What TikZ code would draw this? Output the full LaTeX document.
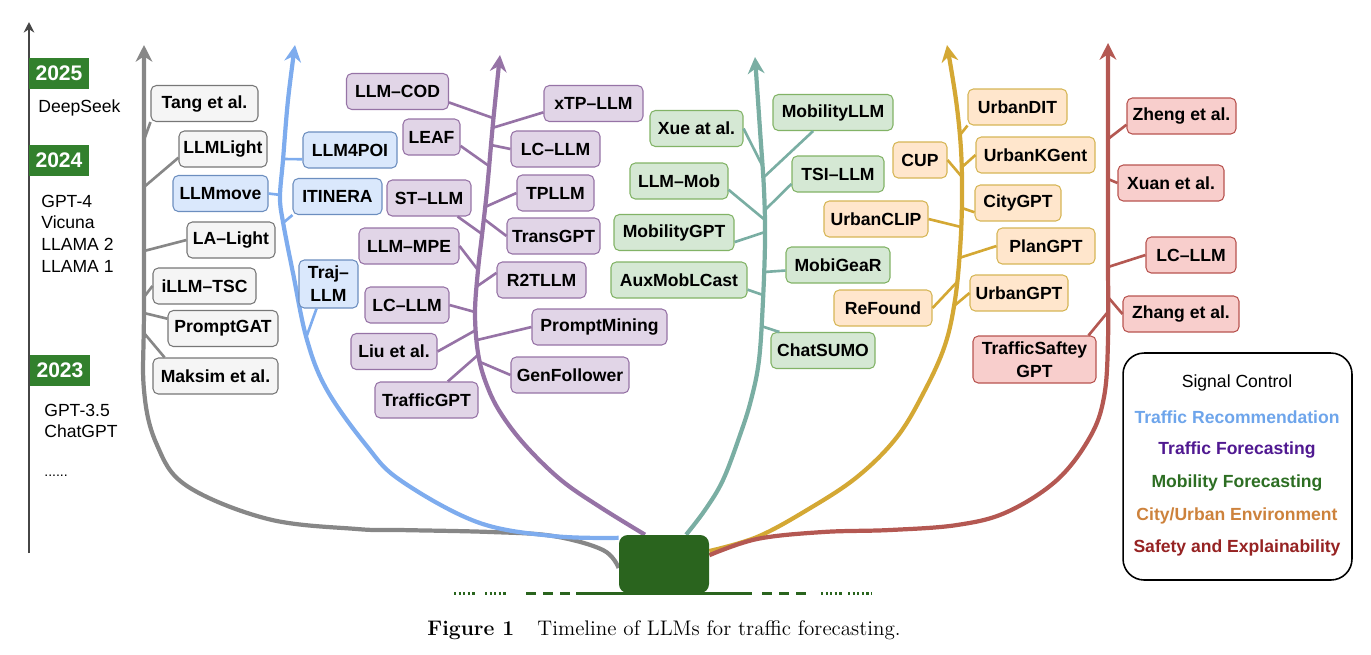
\documentclass[tikz,border=0pt]{standalone}
\usepackage{fontspec}
\setsansfont{Liberation Sans}
\usepackage{xcolor}
\usepackage{tikz}
\usetikzlibrary{
    arrows.meta,
    backgrounds
}

\definecolor{cgray}{RGB}{135,135,135}
\definecolor{cblue}{RGB}{126,172,238}
\definecolor{cpurple}{RGB}{150,115,166}
\definecolor{cteal}{RGB}{122,174,163}
\definecolor{cgold}{RGB}{212,168,52}
\definecolor{cred}{RGB}{180,88,82}
\definecolor{axisgray}{RGB}{70,70,70}
\definecolor{yeargreen}{RGB}{50,128,45}
\definecolor{rootgreen}{RGB}{42,100,30}
\definecolor{gfill}{HTML}{F5F5F5}
\definecolor{gdraw}{HTML}{777777}
\definecolor{bfill}{HTML}{DAE8FC}
\definecolor{bdraw}{HTML}{6C8EBF}
\definecolor{pfill}{HTML}{E1D5E7}
\definecolor{pdraw}{HTML}{9673A6}
\definecolor{mfill}{HTML}{D5E8D4}
\definecolor{mdraw}{HTML}{82B366}
\definecolor{ofill}{HTML}{FFE6CC}
\definecolor{odraw}{HTML}{D6B656}
\definecolor{rfill}{HTML}{F8CECC}
\definecolor{rdraw}{HTML}{B85450}
\definecolor{lgblue}{RGB}{110,165,235}
\definecolor{lgpurple}{RGB}{80,25,145}
\definecolor{lggreen}{RGB}{45,110,35}
\definecolor{lgorange}{RGB}{205,130,60}
\definecolor{lgred}{RGB}{150,35,35}

\begin{document}
\begin{tikzpicture}[
    x=0.02cm, y=-0.02cm,
    font=\sffamily\bfseries\fontsize{10}{13}\selectfont,
    box/.style={
        rectangle,
        rounded corners=3pt,
        line width=0.6pt,
        align=center,
        text=black,
        minimum height=0.72cm,
        inner xsep=2pt,
        inner ysep=2pt
    },
    bw/.style={minimum width=#1*0.02cm},
    gbox/.style={box, draw=gdraw, fill=gfill},
    bbox/.style={box, draw=bdraw, fill=bfill},
    pbox/.style={box, draw=pdraw, fill=pfill},
    mbox/.style={box, draw=mdraw, fill=mfill},
    obox/.style={box, draw=odraw, fill=ofill},
    rbox/.style={box, draw=rdraw, fill=rfill},
    year/.style={
        fill=yeargreen,
        text=white,
        font=\sffamily\bfseries\fontsize{12}{14}\selectfont,
        minimum width=1.22cm,
        minimum height=0.62cm,
        inner sep=0pt
    },
    era/.style={
        font=\sffamily\mdseries\fontsize{10}{12.3}\selectfont,
        anchor=west,
        align=left,
        inner sep=0pt
    },
    legtext/.style={font=\sffamily\bfseries\fontsize{10}{12}\selectfont},
    branch/.style={line width=2.4pt, -{Stealth[length=9.5pt, width=9.5pt]}},
    link/.style={line width=1.5pt},
    axis/.style={axisgray, line width=1.1pt, -{Stealth[length=6pt, width=6pt]}},
    ground/.style={rootgreen, line width=1.7pt}
]

\useasboundingbox (0,0) rectangle (1371,654);

% ===== TIMELINE =====
\coordinate (axbot) at (29,553);
\coordinate (axtop) at (29,22);
\draw[axis] (axbot) -- (axtop);

\node[year] (y2025) at (59,73) {2025};
\node[year] (y2024) at (59,160) {2024};
\node[year] (y2023) at (60,370) {2023};
\node[era] (deepseek) at (38,108) {DeepSeek};
\node[era] (m2024) at (41,233.5) {GPT-4\\Vicuna\\LLAMA 2\\LLAMA 1};
\node[era] (m2023) at (44,421) {GPT-3.5\\ChatGPT};
\node[era, font=\sffamily\mdseries\fontsize{8}{10}\selectfont] (more) at (44,476) {......};

% ===== ROOT =====
\node[fill=rootgreen, rounded corners=5pt, minimum width=1.8cm, minimum height=1.16cm, inner sep=0pt] (root) at (664,564) {};

\draw[ground, dash pattern=on 1.3pt off 1.3pt] (454,593) -- (475,593);
\draw[ground, dash pattern=on 1.3pt off 1.3pt] (485,593) -- (507,593);
\draw[ground, dash pattern=on 5.7pt off 4pt] (526,593) -- (570,593);
\draw[ground] (576,593) -- (752,593);
\draw[ground, dash pattern=on 5.7pt off 4pt] (762,593) -- (808,593);
\draw[ground, dash pattern=on 1.3pt off 1.3pt] (821,593) -- (842,593);
\draw[ground, dash pattern=on 1.3pt off 1.3pt] (848,593) -- (871,593);

% ===== BRANCHES =====
\coordinate (gtop) at (144,45);
\coordinate (btop) at (295,45);
\coordinate (ptop) at (500,55);
\coordinate (ttop) at (755,57);
\coordinate (otop) at (947,45);
\coordinate (rtop) at (1108,43);

\begin{scope}[on background layer]
\draw[branch, cgray] plot[smooth, tension=0.6] coordinates {(root.185) (603,550) (553,536) (491,532) (400,530) (357,529) (268,519) (187,486) (157,445) (144,390) (144,300) (gtop)};
\draw[branch, cblue] plot[smooth, tension=0.6] coordinates {(root.150) (553,536) (477,522) (400,480) (366,445) (327,390) (307,340) (293,273) (283,222) (280,197) (283,160) (288,100) (btop)};
\draw[branch, cpurple] plot[smooth, tension=0.6] coordinates {(root.123) (600,507) (561,480) (525,445) (500,412) (486,383) (478,353) (475,313) (478,270) (482,235) (487,190) (493,123) (ptop)};
\draw[branch, cteal] plot[smooth, tension=0.6] coordinates {(root.53) (705,510) (723,480) (740,435) (751,400) (759,360) (763,300) (765,240) (764,190) (760,130) (ttop)};
\draw[branch, cgold] plot[smooth, tension=0.6] coordinates {(root.16) (757,537) (807,510) (857,477) (897,437) (925,390) (945,345) (955,300) (960,250) (962,200) (961,150) (956,100) (otop)};
\draw[branch, cred] plot[smooth, tension=0.6] coordinates {(root.11) (757,539) (823,532) (890,530) (957,525) (1007,512) (1057,480) (1090,437) (1104,397) (1108,340) (1108,250) (rtop)};
\end{scope}

% ===== SIGNAL CONTROL =====
\node[gbox, bw=107] (tang) at (204.5,103.5) {Tang et al.};
\node[gbox, bw=88] (llmlight) at (223,149) {LLMLight};
\node[gbox, bw=88] (lalight) at (231,240) {LA--Light};
\node[gbox, bw=103] (illmtsc) at (204.5,286) {iLLM--TSC};
\node[gbox, bw=110] (promptgat) at (223,328.5) {PromptGAT};
\node[gbox, bw=125] (maksim) at (215.5,376) {Maksim et al.};

% ===== TRAFFIC RECOMMENDATION =====
\node[bbox, bw=95] (llmmove) at (220.5,193.5) {LLMmove};
\node[bbox, bw=94] (llm4poi) at (350,150) {LLM4POI};
\node[bbox, bw=89] (itinera) at (337.5,196.5) {ITINERA};
\node[bbox, bw=59, minimum height=0.96cm] (trajllm) at (328.5,284) {Traj--\\LLM};

% ===== TRAFFIC FORECASTING =====
\node[pbox, bw=102] (llmcod) at (397.5,91.5) {LLM--COD};
\node[pbox, bw=57] (leaf) at (431.5,137) {LEAF};
\node[pbox, bw=84] (stllm) at (429,198) {ST--LLM};
\node[pbox, bw=100] (llmmpe) at (409,246) {LLM--MPE};
\node[pbox, bw=84] (lcllma) at (407,305) {LC--LLM};
\node[pbox, bw=86] (liu) at (394,351.5) {Liu et al.};
\node[pbox, bw=103] (trafficgpt) at (426.5,400) {TrafficGPT};
\node[pbox, bw=99] (xtpllm) at (593.5,103.5) {xTP--LLM};
\node[pbox, bw=89] (lcllmb) at (555.5,149) {LC--LLM};
\node[pbox, bw=77] (tpllm) at (555.5,193) {TPLLM};
\node[pbox, bw=93] (transgpt) at (553.5,236) {TransGPT};
\node[pbox, bw=89] (r2tllm) at (541.5,280) {R2TLLM};
\node[pbox, bw=135] (promptmining) at (599.5,327) {PromptMining};
\node[pbox, bw=118] (genfollower) at (570,375) {GenFollower};

% ===== MOBILITY FORECASTING =====
\node[mbox, bw=93] (xue) at (696.5,128.5) {Xue at al.};
\node[mbox, bw=120] (mobilityllm) at (833,112.5) {MobilityLLM};
\node[mbox, bw=98] (llmmob) at (679,181) {LLM--Mob};
\node[mbox, bw=92] (tsillm) at (838,174) {TSI--LLM};
\node[mbox, bw=120] (mobilitygpt) at (674,232.5) {MobilityGPT};
\node[mbox, bw=104] (mobigear) at (838,265) {MobiGeaR};
\node[mbox, bw=136] (auxmob) at (679,280) {AuxMobLCast};
\node[mbox, bw=104] (chatsumo) at (823,350.5) {ChatSUMO};

% ===== CITY / URBAN =====
\node[obox, bw=99] (urbandit) at (1017.5,107) {UrbanDIT};
\node[obox, bw=54] (cup) at (920,160) {CUP};
\node[obox, bw=119] (urbankgent) at (1035.5,155) {UrbanKGent};
\node[obox, bw=86] (citygpt) at (1018,203) {CityGPT};
\node[obox, bw=104] (urbanclip) at (876,219) {UrbanCLIP};
\node[obox, bw=98] (plangpt) at (1046,246) {PlanGPT};
\node[obox, bw=98] (urbangpt) at (1019,293) {UrbanGPT};
\node[obox, bw=98] (refound) at (883,308) {ReFound};

% ===== SAFETY =====
\node[rbox, bw=109] (zheng) at (1181.5,116) {Zheng et al.};
\node[rbox, bw=106] (xuan) at (1171,183) {Xuan et al.};
\node[rbox, bw=90] (lcllmc) at (1191,255) {LC--LLM};
\node[rbox, bw=116] (zhang) at (1181,314) {Zhang et al.};
\node[rbox, bw=123, minimum height=0.94cm] (trafficsafety) at (1034.5,359.5) {TrafficSaftey\\GPT};

% links: node / anchor / point on the branch / colour
\foreach \n/\a/\x/\y/\c in {
    tang/south west/144/140/cgray, llmlight/191/144/187/cgray,
    lalight/west/144/251/cgray, illmtsc/west/144/297/cgray,
    promptgat/170/144/313/cgray, maksim/160/144/333/cgray,
    llmmove/east/281/195/cblue, llm4poi/191/283/159/cblue,
    itinera/south west/283/223/cblue, trajllm/244/306/338/cblue,
    llmcod/-12/493/118/cpurple, xtpllm/190/492/128/cpurple,
    lcllmb/west/491/145/cpurple, leaf/-17/489/166/cpurple,
    tpllm/west/485/207/cpurple, stllm/-33/482/234/cpurple,
    transgpt/west/484/219/cpurple, llmmpe/east/478/270/cpurple,
    r2tllm/171/476/287/cpurple, lcllma/east/475/312/cpurple,
    promptmining/west/477/340/cpurple, liu/east/476/330/cpurple,
    genfollower/west/480/362/cpurple, trafficgpt/41/478/355/cpurple,
    xue/east/763/167/cteal, mobilityllm/223/764/177/cteal,
    llmmob/-10/765/220/cteal, tsillm/192/765/210/cteal,
    mobilitygpt/-9/765/232/cteal, mobigear/186/764/272/cteal,
    auxmob/-8/763/295/cteal, chatsumo/157/761/326/cteal,
    urbandit/south west/960/135/cgold, cup/east/962/177/cgold,
    urbankgent/west/961/168/cgold, citygpt/192/962/208/cgold,
    urbanclip/east/961/227/cgold, plangpt/west/959/258/cgold,
    urbangpt/west/954/306/cgold, refound/east/957/282/cgold,
    zheng/189/1108/139/cred, xuan/west/1108/179/cred,
    lcllmc/west/1108/267/cred, zhang/west/1108/297/cred,
    trafficsafety/24/1107/313/cred}
{
    \coordinate (j-\n) at (\x,\y);
    \draw[link, \c] (\n.\a) -- (j-\n);
}

% ===== LEGEND =====
\node[draw=black, line width=0.9pt, rounded corners=12pt, minimum width=4.58cm, minimum height=4.54cm] (legend) at (1237.5,466.5) {};
\node[legtext, font=\sffamily\mdseries\fontsize{10}{12}\selectfont] (sigctl) at (1237,383) {Signal Control};
\node[legtext, text=lgblue] (trec) at (1237,417) {Traffic Recommendation};
\node[legtext, text=lgpurple] (tfore) at (1237,450) {Traffic Forecasting};
\node[legtext, text=lggreen] (mfore) at (1237,483) {Mobility Forecasting};
\node[legtext, text=lgorange] (urban) at (1237,516) {City/Urban Environment};
\node[legtext, text=lgred] (safety) at (1237,548) {Safety and Explainability};

% ===== CAPTION =====
\node[font=\rmfamily\mdseries\fontsize{12}{14}\selectfont] (caption) at (664,630) {\textbf{Figure 1}\hspace{1.1em}Timeline of LLMs for traffic forecasting.};

\end{tikzpicture}
\end{document}
